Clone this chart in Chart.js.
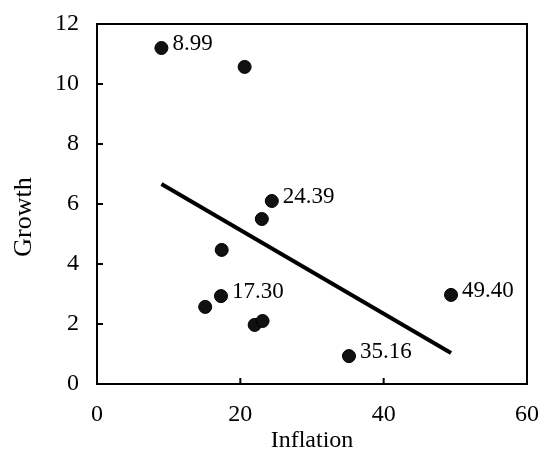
<!DOCTYPE html>
<html>
<head>
<meta charset="utf-8">
<script src="https://cdn.jsdelivr.net/npm/chart.js@4"></script>
<style>
  html, body { margin: 0; padding: 0; background: #fff; }
  #wrap { width: 540px; height: 468px; }
</style>
</head>
<body>
<div id="wrap"><canvas id="myChart" width="540" height="468"></canvas></div>
<script>
// inflation (x) og growth (y) for kvart land
const inflation = [8.99, 20.6, 24.39, 23.0, 17.4, 17.30, 15.1, 22.0, 23.1, 35.16, 49.40];
const growth    = [11.2, 10.57, 6.1, 5.5, 4.47, 2.93, 2.57, 1.97, 2.1, 0.93, 2.97];
const pointLabels = ['8.99', '', '24.39', '', '', '17.30', '', '', '', '35.16', '49.40'];

// regresjonslinja, endepunkt
const fitX = [8.99, 49.40];
const fitY = [6.67, 1.03];

const xTicks = [0, 20, 40, 60];
const yTicks = [0, 2, 4, 6, 8, 10, 12];

const serif = 'Liberation Serif';

// ramme rundt plottet og tick-merke som peikar innover
const framePlugin = {
  id: 'frame',
  afterDatasetsDraw(chart) {
    const { ctx, chartArea: a, scales } = chart;
    ctx.save();
    ctx.strokeStyle = '#000';
    ctx.lineWidth = 2;
    ctx.strokeRect(a.left, a.top, a.right - a.left, a.bottom - a.top);
    ctx.beginPath();
    yTicks.forEach(v => {
      const y = scales.y.getPixelForValue(v);
      ctx.moveTo(a.left, y);
      ctx.lineTo(a.left + 6, y);
    });
    xTicks.forEach(v => {
      const x = scales.x.getPixelForValue(v);
      ctx.moveTo(x, a.bottom);
      ctx.lineTo(x, a.bottom - 6);
    });
    ctx.stroke();
    ctx.restore();
  }
};

// tal ved sida av nokre av punkta
const labelPlugin = {
  id: 'pointLabels',
  afterDatasetsDraw(chart) {
    const { ctx } = chart;
    const meta = chart.getDatasetMeta(1);
    ctx.save();
    ctx.fillStyle = '#000';
    ctx.font = '23px "' + serif + '"';
    ctx.textAlign = 'left';
    ctx.textBaseline = 'middle';
    meta.data.forEach((pt, i) => {
      if (pointLabels[i]) ctx.fillText(pointLabels[i], pt.x + 11, pt.y - 4);
    });
    ctx.restore();
  }
};

const ctx = document.getElementById('myChart');

new Chart(ctx, {
  type: 'scatter',
  data: {
    datasets: [{
      type: 'line',
      data: fitX.map((x, i) => ({ x: x, y: fitY[i] })),
      borderColor: '#000',
      borderWidth: 4,
      pointRadius: 0,
      fill: false
    }, {
      data: inflation.map((x, i) => ({ x: x, y: growth[i] })),
      backgroundColor: '#111',
      borderColor: '#000',
      borderWidth: 1,
      pointRadius: 6.5
    }]
  },
  options: {
    responsive: false,
    animation: false,
    layout: { padding: { top: 24, right: 13, left: 0, bottom: 0 } },
    plugins: {
      legend: { display: false },
      tooltip: { enabled: false }
    },
    scales: {
      x: {
        type: 'linear',
        min: 0,
        max: 60,
        afterBuildTicks(scale) { scale.ticks = xTicks.map(v => ({ value: v })); },
        afterFit(scale) {
          scale.height = 84;
          scale.paddingLeft = 0;
          scale.paddingRight = 0;
        },
        grid: { display: false, drawTicks: false },
        border: { display: false },
        ticks: { color: '#000', padding: 16, font: { family: serif, size: 24 } },
        title: { display: true, text: 'Inflation', color: '#000', padding: { top: 0, bottom: 13 }, font: { family: serif, size: 24 } }
      },
      y: {
        type: 'linear',
        min: 0,
        max: 12,
        afterBuildTicks(scale) { scale.ticks = yTicks.map(v => ({ value: v })); },
        afterFit(scale) {
          scale.width = 97;
          scale.paddingTop = 0;
          scale.paddingBottom = 0;
        },
        grid: { display: false, drawTicks: false },
        border: { display: false },
        ticks: { color: '#000', padding: 18, font: { family: serif, size: 24 } },
        // mellomromma flyttar teksten litt ned, som i originalen
        title: { display: true, text: 'Growth    ', color: '#000', padding: { top: 9, bottom: 0 }, font: { family: serif, size: 26 } }
      }
    }
  },
  plugins: [framePlugin, labelPlugin]
});
</script>
</body>
</html>
